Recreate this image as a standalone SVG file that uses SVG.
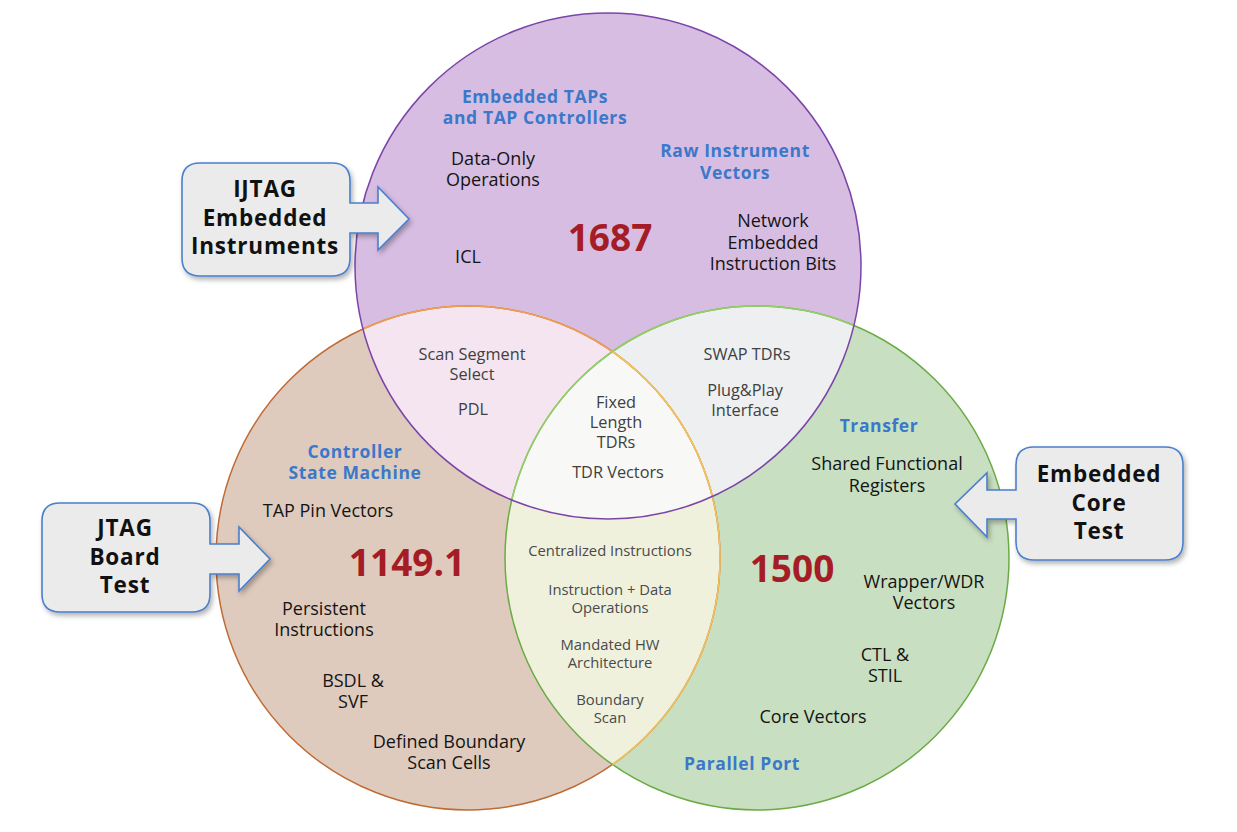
<svg xmlns="http://www.w3.org/2000/svg" width="1237" height="832" viewBox="0 0 1237 832">
<defs>
<style>
text{font-family:"Open Sans","Noto Sans","Liberation Sans",sans-serif;text-anchor:middle}
.t{font-size:18px;fill:#141414}
.g{font-size:16.3px;fill:#404040}
.s{font-size:14.8px;fill:#4a4a4a}
.b{font-size:17.5px;font-weight:bold;fill:#3b78c9;letter-spacing:0.6px}
.n{font-size:37px;font-weight:bold;fill:#a41d26}
.c{font-size:22.5px;font-weight:bold;fill:#111;letter-spacing:0.8px}
.callout{fill:#ebebeb;stroke:#4a7fcc;stroke-width:1.6;filter:url(#sh)}
</style>
<clipPath id="cpP"><circle cx="608" cy="266" r="253"/></clipPath>
<clipPath id="cpB"><circle cx="468" cy="558" r="252"/></clipPath>
<clipPath id="cpG"><circle cx="757" cy="558" r="252"/></clipPath>
<filter id="sh" x="-20%" y="-20%" width="140%" height="150%">
<feDropShadow dx="2" dy="3" stdDeviation="2.5" flood-color="#000" flood-opacity="0.3"/>
</filter>
</defs>
<rect width="1237" height="832" fill="#fff"/>
<g id="circles">
<circle cx="608" cy="266" r="253" fill="#d7bde2"/>
<circle cx="468" cy="558" r="252" fill="#dfcbbd"/>
<circle cx="757" cy="558" r="252" fill="#c9dfc1"/>
<g clip-path="url(#cpP)">
<circle cx="468" cy="558" r="252" fill="#f4e5f0"/>
<circle cx="757" cy="558" r="252" fill="#eeeff1"/>
</g>
<g clip-path="url(#cpB)">
<circle cx="757" cy="558" r="252" fill="#f0f1dd"/>
</g>
<g clip-path="url(#cpP)">
<circle cx="757" cy="558" r="252" fill="#f8f8f6" clip-path="url(#cpB)"/>
</g>
<circle cx="468" cy="558" r="252" fill="none" stroke="#bf6b35" stroke-width="1.5"/>
<circle cx="757" cy="558" r="252" fill="none" stroke="#6aab45" stroke-width="1.5"/>
<circle cx="468" cy="558" r="252" fill="none" stroke="#f0a055" stroke-width="1.5" clip-path="url(#cpP)"/>
<circle cx="757" cy="558" r="252" fill="none" stroke="#95cf68" stroke-width="1.5" clip-path="url(#cpP)"/>
<circle cx="468" cy="558" r="252" fill="none" stroke="#f0c45c" stroke-width="1.5" clip-path="url(#cpG)"/>
<circle cx="608" cy="266" r="253" fill="none" stroke="#7b45a8" stroke-width="1.5"/>
</g>
<g id="ieee1687">
<text class="b" x="535" y="103">Embedded TAPs</text>
<text class="b" x="535" y="124">and TAP Controllers</text>
<text class="b" x="735" y="157">Raw Instrument</text>
<text class="b" x="735" y="179">Vectors</text>
<text class="t" x="493" y="165">Data-Only</text>
<text class="t" x="493" y="186">Operations</text>
<text class="n" x="610" y="251">1687</text>
<text class="t" x="468" y="263">ICL</text>
<text class="t" x="773" y="227">Network</text>
<text class="t" x="773" y="249">Embedded</text>
<text class="t" x="773" y="270">Instruction Bits</text>
</g>
<g id="ieee1149">
<text class="b" x="355" y="458">Controller</text>
<text class="b" x="355" y="479">State Machine</text>
<text class="t" x="328" y="517">TAP Pin Vectors</text>
<text class="n" x="407" y="576">1149.1</text>
<text class="t" x="324" y="615">Persistent</text>
<text class="t" x="324" y="636">Instructions</text>
<text class="t" x="353" y="687">BSDL &amp;</text>
<text class="t" x="353" y="708">SVF</text>
<text class="t" x="449" y="748">Defined Boundary</text>
<text class="t" x="449" y="769">Scan Cells</text>
</g>
<g id="ieee1500">
<text class="b" x="879" y="432">Transfer</text>
<text class="t" x="887" y="470">Shared Functional</text>
<text class="t" x="887" y="492">Registers</text>
<text class="n" x="792" y="582">1500</text>
<text class="t" x="924" y="588">Wrapper/WDR</text>
<text class="t" x="924" y="609">Vectors</text>
<text class="t" x="885" y="661">CTL &amp;</text>
<text class="t" x="885" y="682">STIL</text>
<text class="t" x="813" y="723">Core Vectors</text>
<text class="b" x="742" y="770">Parallel Port</text>
</g>
<g id="overlap-1687-1149">
<text class="g" x="472" y="360">Scan Segment</text>
<text class="g" x="472" y="380">Select</text>
<text class="g" x="473" y="415">PDL</text>
</g>
<g id="overlap-1687-1500">
<text class="g" x="747" y="360">SWAP TDRs</text>
<text class="g" x="745" y="396">Plug&amp;Play</text>
<text class="g" x="745" y="416">Interface</text>
</g>
<g id="overlap-all">
<text class="g" x="616" y="408">Fixed</text>
<text class="g" x="616" y="428">Length</text>
<text class="g" x="616" y="448">TDRs</text>
<text class="g" x="618" y="478">TDR Vectors</text>
</g>
<g id="overlap-1149-1500">
<text class="s" x="610" y="556">Centralized Instructions</text>
<text class="s" x="610" y="595">Instruction + Data</text>
<text class="s" x="610" y="613">Operations</text>
<text class="s" x="610" y="650">Mandated HW</text>
<text class="s" x="610" y="668">Architecture</text>
<text class="s" x="610" y="705">Boundary</text>
<text class="s" x="610" y="723">Scan</text>
</g>
<g id="callout-ijtag">
<path class="callout" d="M200,163 H332 Q350,163 350,181 V203 H378 V187 L409,219 L378,250 V233 H350 V258 Q350,276 332,276 H200 Q182,276 182,258 V181 Q182,163 200,163 Z"/>
<text class="c" x="265" y="197">IJTAG</text>
<text class="c" x="265" y="226">Embedded</text>
<text class="c" x="265" y="254">Instruments</text>
</g>
<g id="callout-jtag">
<path class="callout" d="M60,503 H192 Q210,503 210,521 V544 H239 V527 L270,559 L239,591 V574 H210 V594 Q210,612 192,612 H60 Q42,612 42,594 V521 Q42,503 60,503 Z"/>
<text class="c" x="125" y="536">JTAG</text>
<text class="c" x="125" y="565">Board</text>
<text class="c" x="125" y="593">Test</text>
</g>
<g id="callout-core">
<path class="callout" d="M1034,447 H1165 Q1183,447 1183,465 V542 Q1183,560 1165,560 H1034 Q1016,560 1016,542 V519 H987 V537 L955,504 L987,473 V490 H1016 V465 Q1016,447 1034,447 Z"/>
<text class="c" x="1099" y="482">Embedded</text>
<text class="c" x="1099" y="511">Core</text>
<text class="c" x="1099" y="539">Test</text>
</g>
<g id="connectors"/>
</svg>
